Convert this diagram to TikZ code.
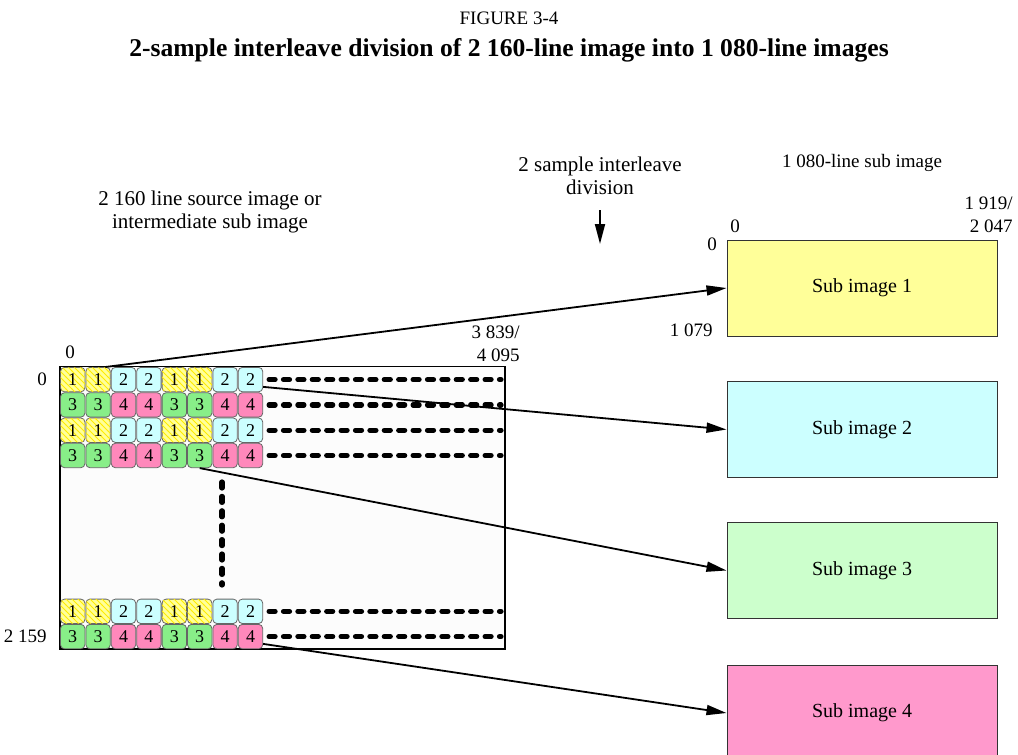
\documentclass[tikz,border=0pt]{standalone}
\usepackage{fontspec}
\setmainfont{Liberation Serif}
\usetikzlibrary{arrows.meta,patterns}

\definecolor{cyel}{HTML}{FFFF99}
\definecolor{ccya}{HTML}{CCFFFF}
\definecolor{cgrn}{HTML}{88EE88}
\definecolor{cpnk}{HTML}{FF88BB}
\definecolor{bgrn}{HTML}{CCFFCC}
\definecolor{bpnk}{HTML}{FF99CC}

\tikzset{
  cell/.style={draw=black!60, rounded corners=2pt, minimum width=12.2pt, minimum height=12.2pt, inner sep=0pt, font=\fontsize{9}{9}\selectfont},
  cell1/.style={fill=cyel, postaction={pattern=north west lines, pattern color=yellow!85!orange}},
  cell2/.style={fill=ccya},
  cell3/.style={fill=cgrn},
  cell4/.style={fill=cpnk},
  subbox/.style={draw=black!80, line width=0.5pt, minimum width=135pt, minimum height=48pt, font=\fontsize{10}{12}\selectfont},
  conn/.style={-{Triangle[length=10pt,width=5pt]}, line width=0.9pt},
  dotline/.style={line width=2.6pt, line cap=round, dash pattern=on 3pt off 4.2pt},
  lbl/.style={font=\fontsize{9.5}{11.5}\selectfont, inner sep=0pt},
}

\begin{document}
\begin{tikzpicture}[x=0.5pt,y=-0.5pt]
\useasboundingbox (0,0) rectangle (1018,755);

% headings
\node (fig) at (509,18) {\fontsize{9.5}{12}\selectfont FIGURE 3-4};
\node (ttl) at (509,50) {\fontsize{12.8}{14}\selectfont\bfseries 2-sample interleave division of 2 160-line image into 1 080-line images};

% source image
\draw[line width=0.6pt, fill=black!1] (60,366.5) rectangle (505,649);
\coordinate (srcr) at (505,366.5);

\foreach \r/\y/\k in {1/379.6/1, 2/404.9/3, 3/430.2/1, 4/455.5/3, 5/611.3/1, 6/636.6/3}
  \foreach \c in {1,...,8} {
    \pgfmathtruncatemacro{\n}{\k+mod(floor((\c-1)/2),2)}
    \node[cell, cell\n] (c-\r-\c) at ({60+25.4*(\c-0.5)},\y) {\n};
  }

\foreach \r in {1,...,6}
  \draw[dotline, shorten <=3pt, shorten >=2pt] (c-\r-8.east) -- (c-\r-8.east -| srcr);
\draw[dotline] (222,482) -- (222,585);

\node[lbl] (z0) at (70,352) {0};
\node[lbl] (z1) at (42,379.6) {0};
\node[lbl, anchor=east] (zlast) at (47,636.6) {2 159};
\node[lbl, align=right, anchor=east] (wsrc) at (520,344) {3 839/\\4 095};
\node[font=\fontsize{10.5}{11.5}\selectfont, align=center] (srclbl) at (210,212) {2 160 line source image or\\intermediate sub image};

% division
\node[font=\fontsize{10.5}{11.5}\selectfont, align=center] (divlbl) at (600,176) {2 sample interleave\\division};
\coordinate (dtop) at (600,210);
\coordinate (dbot) at (600,244);
\draw[conn] (dtop) -- (dbot);

% sub images
\node[subbox, fill=cyel] (s1) at (862,288) {Sub image 1};
\node[subbox, fill=ccya] (s2) at (862,429.5) {Sub image 2};
\node[subbox, fill=bgrn] (s3) at (862,570.5) {Sub image 3};
\node[subbox, fill=bpnk] (s4) at (862,713) {Sub image 4};

\node[lbl] (sublbl) at (862,163) {1 080-line sub image};
\node[lbl, align=right, anchor=east] (wsub) at (1013,215) {1 919/\\2 047};
\node[lbl] (zs0) at (735,226) {0};
\node[lbl] (zs1) at (712,244) {0};
\node[lbl, anchor=east] (hsub) at (713,330) {1 079};

\draw[conn] (c-1-2.60) -- (s1.west);
\draw[conn] (c-1-8.-30) -- (s2.west);
\draw[conn] (c-4-6.south) -- (s3.west);
\draw[conn] (c-6-8.-30) -- (s4.west);

\end{tikzpicture}
\end{document}
